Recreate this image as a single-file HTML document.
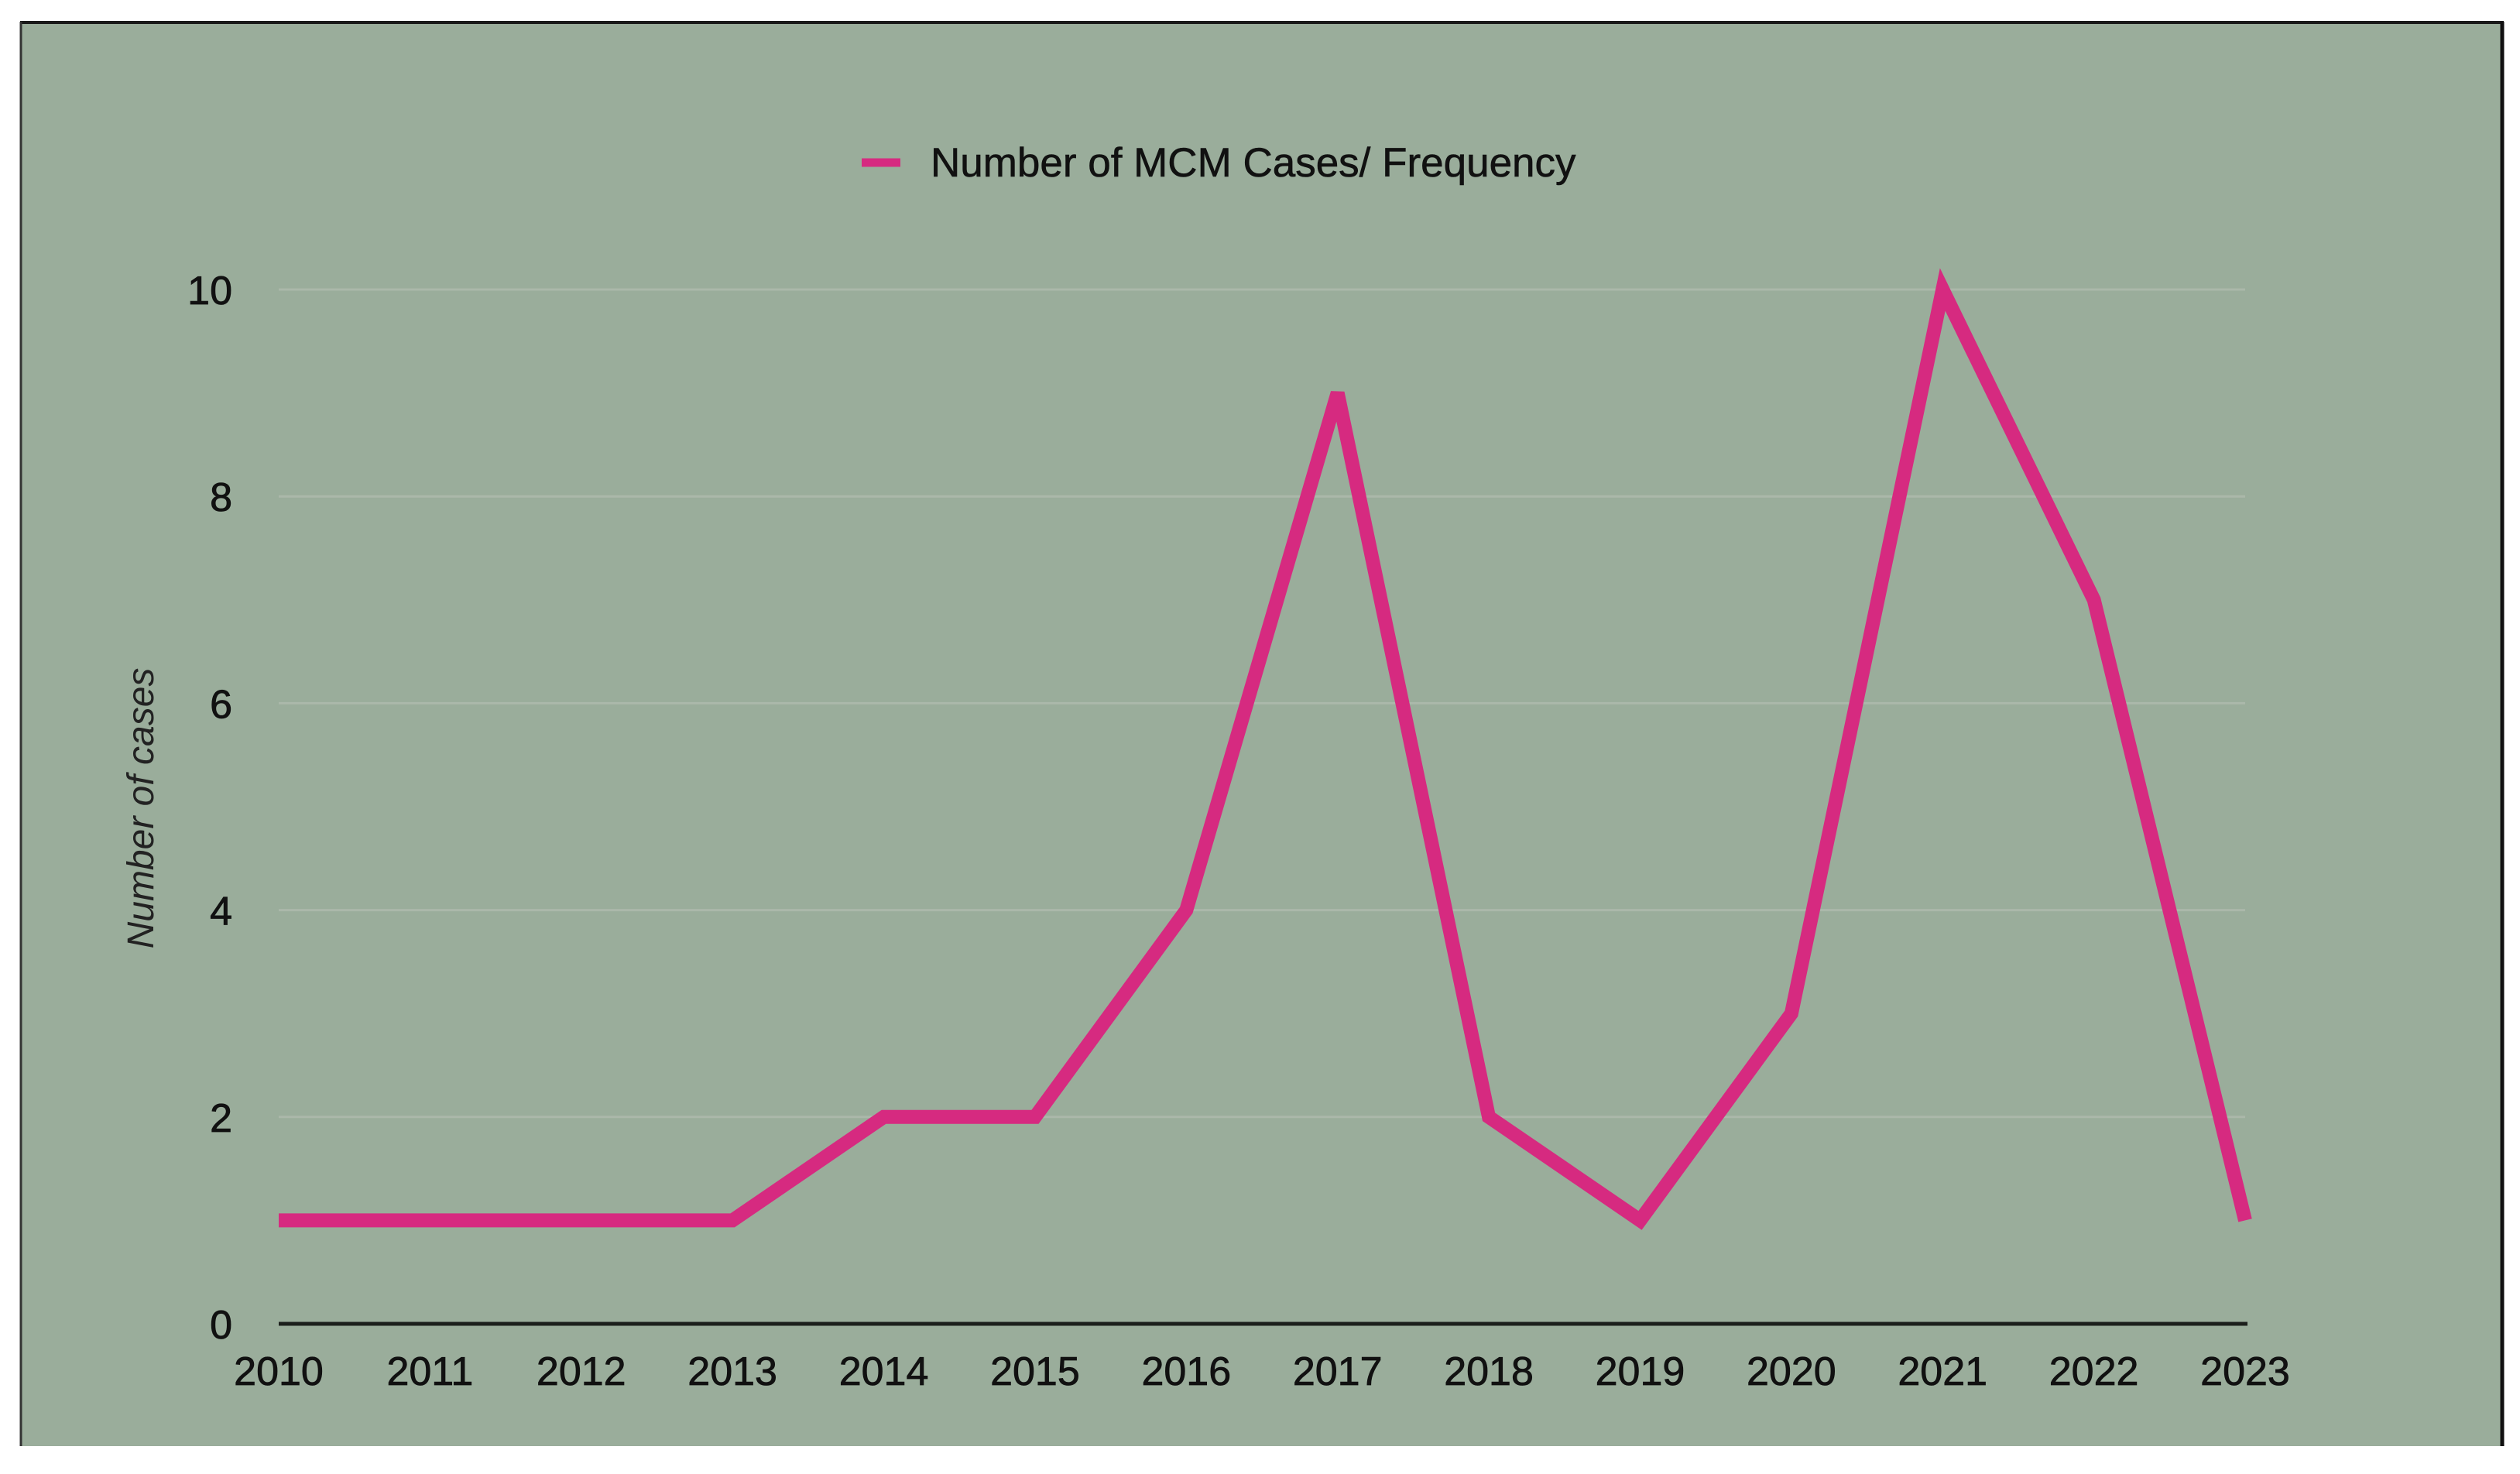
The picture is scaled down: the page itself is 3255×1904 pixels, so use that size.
<!DOCTYPE html>
<html><head><meta charset="utf-8"><style>
html,body{margin:0;padding:0;background:#fff;}
svg{display:block;}
text{font-family:"Liberation Sans",Arial,sans-serif;}
</style></head><body>
<svg id="chart" width="3255" height="1904" viewBox="0 0 3255 1904" xmlns="http://www.w3.org/2000/svg">
<rect x="27" y="29" width="3205" height="1839" fill="#9aad9b"/>
<line x1="26" y1="29" x2="3234" y2="29" stroke="#1a1a1a" stroke-width="4"/>
<line x1="27" y1="28" x2="27" y2="1868" stroke="#333" stroke-width="3"/>
<line x1="3232" y1="28" x2="3232" y2="1868" stroke="#111" stroke-width="5"/>
<g id="grid"></g>
<g id="yticks"></g>
<g id="xticks"></g>
<line x1="360" y1="1710" x2="2903" y2="1710" stroke="#1c1f1c" stroke-width="5"/>
<g id="series"></g>
<g>
<line x1="1113" y1="210" x2="1163" y2="210" stroke="#d62a80" stroke-width="11"/>
<text x="1202" y="228" font-size="53" fill="#111" stroke="#111" stroke-width="0.6">Number of MCM Cases/ Frequency</text>
</g>
<text transform="translate(198,1044) rotate(-90)" text-anchor="middle" font-size="48" font-style="italic" fill="#222">Number of cases</text>
</svg>
<script>
const categories = ["2010","2011","2012","2013","2014","2015","2016","2017","2018","2019","2020","2021","2022","2023"];
const cases = [1,1,1,1,2,2,4,9,2,1,3,10,7,1];
const yTicks = [0,2,4,6,8,10];
const NS = "http://www.w3.org/2000/svg";
const x0 = 360, x1 = 2900, yBase = 1710, yTop = 374, yMax = 10;
function xs(i){ return x0 + i * (x1 - x0) / (categories.length - 1); }
function ys(v){ return yBase - v * (yBase - yTop) / yMax; }
function mk(tag, attrs, parent){ const e = document.createElementNS(NS, tag); for (const k in attrs) e.setAttribute(k, attrs[k]); parent.appendChild(e); return e; }
const grid = document.getElementById('grid'), yt = document.getElementById('yticks'), xt = document.getElementById('xticks'), ser = document.getElementById('series');
yTicks.forEach(v => {
  if (v > 0) {
    const g = mk('line', {x1: x0, x2: x1, y1: ys(v), y2: ys(v), stroke: '#abb8aa', 'stroke-width': 3}, grid);
    
    
  }
  const t = mk('text', {x: 300, y: ys(v) + 19, 'text-anchor': 'end', 'font-size': 52, fill: '#111', stroke: '#111', 'stroke-width': 0.8}, yt);
  t.textContent = v;
  
  
});
categories.forEach((c, i) => {
  const t = mk('text', {x: xs(i), y: 1789, 'text-anchor': 'middle', 'font-size': 52, fill: '#111', stroke: '#111', 'stroke-width': 0.8}, xt);
  t.textContent = c;
  
  
});
const pts = cases.map((v, i) => xs(i) + ',' + ys(v)).join(' ');
const pl = mk('polyline', {points: pts, fill: 'none', stroke: '#d62a80', 'stroke-width': 18, 'stroke-linejoin': 'miter', 'stroke-miterlimit': 4}, ser);


</script>
</body></html>
